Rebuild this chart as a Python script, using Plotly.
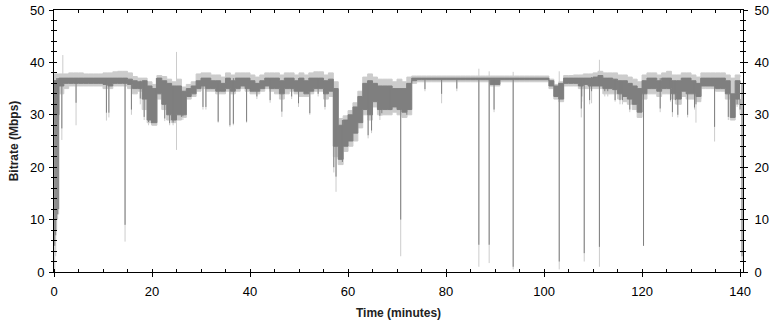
import plotly.graph_objects as go

# ---- data ----
minutes = list(range(0, 141))

avg_hi = [36.5, 37, 37, 37, 37, 37, 37, 37, 37, 37,
          37, 37, 37, 37, 37, 36.8, 36.5, 36.3, 36.5, 35.5,
          35, 37, 36.5, 36, 35.5, 35.5, 34.5, 35, 35.5, 36.5,
          37, 37, 36.5, 36.5, 36, 37, 36.5, 37, 37, 37,
          36.5, 36, 36.5, 37, 37, 37, 36.5, 37, 37, 36.5,
          37, 36.5, 37, 37, 37, 36.5, 36.8, 35, 28, 29,
          30, 31.5, 33.5, 36, 36.5, 36, 35.5, 35.5, 35.5, 35,
          35, 35, 36, 37, 37, 37, 37, 37, 37, 37,
          37, 37, 37, 37, 37, 37, 37, 37, 37, 37,
          37, 37, 37, 37, 37, 37, 37, 37, 37, 37,
          37, 36.5, 35.5, 36, 37, 37, 37, 37, 37, 37,
          37.2, 37.5, 37, 37, 36.8, 36.5, 36.5, 36, 35.5, 35,
          36.5, 37, 37, 36.5, 37, 37, 36.5, 36.5, 37, 37,
          36.5, 36, 37, 37, 37, 37, 37, 36.5, 34, 36.5,
          36]
avg_lo = [30, 35.5, 36, 36, 36, 36, 36, 36, 36, 36,
          35.8, 35.5, 36, 36, 36, 35.8, 35, 35, 33, 29,
          28.5, 34, 32, 30, 29, 30, 30, 33.5, 34, 35,
          35.5, 35, 35, 34.5, 34.5, 35, 34.5, 35, 35.5, 35,
          34.5, 34.5, 35, 35.5, 35, 35, 34, 35, 35, 34.5,
          34.5, 34, 34.5, 35, 35, 34, 34.5, 24, 21.5, 24,
          25, 26.5, 28.5, 31, 30, 32.5, 31, 31, 31, 31.5,
          31, 30.5, 31, 36.5, 36.7, 36.7, 36.7, 36.7, 36.7, 36.7,
          36.7, 36.7, 36.7, 36.7, 36.7, 36.7, 36.7, 36.7, 36.7, 35.8,
          35.8, 36.7, 36.7, 36.7, 36.7, 36.7, 36.7, 36.7, 36.7, 36.7,
          36.7, 35.5, 33.5, 33, 36, 36, 36, 35.5, 35.8, 35.5,
          35.5, 35.5, 35, 35, 34.8, 34, 33.5, 33, 32, 30.5,
          34, 35, 35, 34.5, 35, 35, 34, 33, 34.5, 34,
          34, 33.5, 35.5, 35.5, 35.5, 35, 35, 34, 29.5, 33,
          31]
peak_hi = [37.8, 37.8, 37.8, 38, 38, 38, 37.8, 37.8, 37.8, 37.8,
           38, 38, 38.2, 38.3, 38.3, 38, 37.3, 37, 37, 36.3,
           35.8, 37.5, 37.3, 36.8, 36.3, 36.8, 35.3, 35.8, 36.3, 37.8,
           38, 38, 37.6, 37.6, 37.2, 38, 37.6, 38, 38, 38,
           37.6, 37.2, 37.6, 38, 38, 38, 37.6, 38, 38, 37.6,
           38, 37.6, 38, 38.2, 38.2, 37.6, 38, 36.3, 29.3, 29.8,
           30.8, 32.3, 34.5, 37.2, 37.8, 37.2, 36.8, 36.8, 36.8, 36.3,
           36.8, 36.3, 37.2, 37.4, 37.4, 37.4, 37.4, 37.4, 37.4, 37.4,
           37.4, 37.4, 37.4, 37.4, 37.4, 37.4, 37.4, 37.4, 37.4, 37.4,
           37.4, 37.4, 37.4, 37.4, 37.4, 37.4, 37.4, 37.4, 37.4, 37.4,
           37.4, 36.8, 35.8, 36.3, 37.5, 37.5, 37.6, 37.6, 37.8, 37.8,
           38, 38.3, 38, 38, 38, 37.6, 37.6, 37.2, 36.8, 36.3,
           37.6, 38, 38, 37.6, 38, 38.3, 37.6, 37.6, 38, 38,
           37.6, 37.2, 38, 38, 38, 38, 38, 37.6, 37, 37.6,
           37.2]
peak_lo = [29, 34, 35, 35.5, 35.5, 35.5, 35.5, 35.5, 35.5, 35.5,
           35, 35, 35.5, 35.5, 35.5, 35, 34, 34.5, 31, 28.5,
           28, 33, 31, 29, 28.5, 29, 29.5, 33, 33.5, 34.5,
           35, 34.5, 34.5, 34, 34, 34.5, 34, 34.5, 35, 34.5,
           34, 34, 34.5, 35, 34.5, 34, 33, 34, 34.5, 34,
           33.5, 33.5, 34, 34.5, 34.5, 33, 33.5, 22, 20.5, 23,
           24, 25, 27.5, 30, 29, 31.5, 30, 30, 30, 30.5,
           30, 29.5, 30, 36, 36.3, 36.3, 36.3, 36.3, 36.3, 36.3,
           36.3, 36.3, 36.3, 36.3, 36.3, 36.3, 36.3, 36.3, 36.3, 35.5,
           35.5, 36.3, 36.3, 36.3, 36.3, 36.3, 36.3, 36.3, 36.3, 36.3,
           36.3, 35, 33, 32.5, 35.5, 35.5, 35.5, 35, 35, 35,
           35, 35, 34, 34, 34, 33, 32.5, 32, 31, 29.5,
           33, 34, 34, 33.5, 34, 34, 33, 32, 33.5, 33,
           33, 32.5, 35, 35, 35, 34.5, 34.5, 33, 29, 32,
           30]

# short drops (time in minutes, lowest average, lowest peak value)
drop_t = [0.15, 0.35, 0.55, 0.75, 0.95, 1.6, 4.5, 10.7, 11.2, 14.5,
          15.8, 17.6, 18.4, 19.3, 19.9, 20.9, 22.6, 23.6, 24.3, 25.0,
          26.0, 26.3, 30.4, 31.0, 33.5, 35.9, 36.6, 39.3, 41.4, 44.1,
          46.5, 48.5, 49.9, 52.2, 53.9, 55.3, 57.1, 57.55, 58.85, 64.1,
          64.8, 66.5, 66.9, 68.6, 69.3, 70.75, 72.0, 75.7, 79.1, 82.2,
          86.7, 88.8, 89.8, 93.7, 103.1, 107.6, 107.7, 108.2, 109.3, 109.7,
          111.3, 112.4, 113.0, 114.5, 115.5, 116.0, 117.5, 120.3, 123.7, 125.8,
          126.2, 126.8, 127.3, 129.3, 130.7, 131.0, 132.0, 134.8, 137.6, 139.4,
          140.4]
drop_avg = [5, 7, 10, 11, 12, 27.4, 32.3, 30.4, 30.4, 9,
            31, 33.1, 29.6, 28.6, 28.4, 33.1, 29.3, 28.4, 28.5, 31,
            29.6, 29.7, 31.5, 31.5, 28.7, 28, 28.3, 28.7, 33.5, 32.8,
            30.6, 33.5, 32.2, 30.3, 34, 31.5, 20, 18.2, 21, 26.1,
            27, 29.8, 30.3, 30.9, 31.5, 10, 30, 34.9, 34, 35,
            5.2, 5.2, 31, 1.0, 2.0, 31.2, 33.5, 3.6, 32.8, 34.5,
            4.8, 34.5, 34.5, 32.8, 32.8, 32.8, 31, 5, 31.2, 32.8,
            30.5, 32.8, 30, 30, 31.4, 32, 33.5, 27.7, 29.6, 32,
            3]
drop_peak = [0, 3, 8, 10, 11, 25.2, 28, 28.9, 29.5, 5.8,
             30, 32, 29, 28, 28, 32.5, 28.8, 28, 28, 23.3,
             29, 29, 31, 31, 28.5, 27.7, 28, 28.5, 33, 32.3,
             29.6, 33, 31.5, 30, 33.5, 31, 19, 15.3, 20.5, 25.5,
             26.5, 29, 29.8, 30.5, 31, 3, 29.5, 34.5, 32.2, 34.5,
             1.0, 1.7, 30.5, 0.5, 0.5, 29.5, 32.5, 2.0, 32, 32.2,
             1.0, 33.5, 33.5, 32.5, 32, 32, 30.5, 5, 30.5, 32.5,
             29.6, 32, 29.5, 29.5, 31, 28.5, 33, 24.9, 29, 31.5,
             2]

# short upward peaks
rise_t = [1.8, 25.0, 111.3, 86.7, 88.8, 93.7, 103.1]
rise_peak = [41.4, 42.0, 40.5, 38.8, 38.3, 38.2, 38.3]

LIGHT = "#cccccc"
DARK = "#7f7f7f"


def vlines(ts, tops, bots):
    xs, ys = [], []
    for t, a, b in zip(ts, tops, bots):
        xs += [t, t, None]
        ys += [a, b, None]
    return xs, ys


fig = go.Figure()

# peak (light) band
fig.add_trace(go.Scatter(x=minutes, y=peak_hi, mode="lines", line_shape="hv",
                         line=dict(color=LIGHT, width=1), hoverinfo="skip"))
fig.add_trace(go.Scatter(x=minutes, y=peak_lo, mode="lines", fill="tonexty", line_shape="hv",
                         fillcolor=LIGHT, line=dict(color=LIGHT, width=1),
                         hoverinfo="skip"))
tops = [avg_hi[min(int(round(t)), len(avg_hi) - 1)] for t in drop_t]
xs, ys = vlines(drop_t, tops, drop_peak)
fig.add_trace(go.Scatter(x=xs, y=ys, mode="lines",
                         line=dict(color=LIGHT, width=1), hoverinfo="skip"))
rtops = [peak_hi[int(round(t))] for t in rise_t]
xs, ys = vlines(rise_t, rise_peak, rtops)
fig.add_trace(go.Scatter(x=xs, y=ys, mode="lines",
                         line=dict(color=LIGHT, width=1), hoverinfo="skip"))

# average (dark) band
fig.add_trace(go.Scatter(x=minutes, y=avg_hi, mode="lines", line_shape="hv",
                         line=dict(color=DARK, width=1), hoverinfo="skip"))
fig.add_trace(go.Scatter(x=minutes, y=avg_lo, mode="lines", fill="tonexty", line_shape="hv",
                         fillcolor=DARK, line=dict(color=DARK, width=1),
                         hoverinfo="skip"))
xs, ys = vlines(drop_t, tops, drop_avg)
fig.add_trace(go.Scatter(x=xs, y=ys, mode="lines",
                         line=dict(color=DARK, width=1), hoverinfo="skip"))

# helper traces so overlaid axes get drawn
for xa, ya in [("x2", "y"), ("x", "y2"), ("x", "y3"), ("x", "y4")]:
    fig.add_trace(go.Scatter(x=[None], y=[None], xaxis=xa, yaxis=ya,
                             showlegend=False, hoverinfo="skip"))

tickfont = dict(family="Liberation Sans, Arial, sans-serif", size=13, color="black")
titlefont = dict(family="Liberation Sans, Arial, sans-serif", size=12, color="#222222")
XR = [0, 140.6]
YR = [0, 50]

fig.update_layout(
    template="none",
    width=776, height=322,
    margin=dict(l=54, r=33, t=10, b=50, autoexpand=False),
    paper_bgcolor="white", plot_bgcolor="white",
    showlegend=False,
    hovermode=False,
    xaxis=dict(range=XR, showgrid=False, zeroline=False, automargin=False,
               showline=True, linecolor="black", linewidth=1, mirror=True,
               ticks="outside", ticklen=4, tickcolor="black", dtick=20, tick0=0,
               tickfont=tickfont, ticklabelstandoff=3,
               minor=dict(ticks="inside", ticklen=3, dtick=5, tickcolor="black", showgrid=False),
               title=dict(text="<b>Time (minutes)</b>", font=titlefont, standoff=11)),
    xaxis2=dict(range=XR, overlaying="x", side="top", showgrid=False, zeroline=False,
                automargin=False,
                showline=False, ticks="inside", ticklen=3, dtick=5, tick0=0,
                tickcolor="black", showticklabels=False),
    yaxis=dict(range=YR, showgrid=False, zeroline=False, automargin=False,
               showline=True, linecolor="black", linewidth=1, mirror=True,
               ticks="outside", ticklen=4, tickcolor="black", dtick=10, tick0=0,
               tickfont=tickfont, ticklabelstandoff=2,
               minor=dict(ticks="outside", ticklen=2, dtick=2, tickcolor="black", showgrid=False),
               title=dict(text="<b>Bitrate (Mbps)</b>", font=titlefont, standoff=8)),
    yaxis3=dict(range=YR, overlaying="y", side="left", showgrid=False, zeroline=False,
                automargin=False,
                showline=False, ticks="inside", ticklen=3, dtick=2, tick0=0,
                tickcolor="black", showticklabels=False),
    yaxis2=dict(range=YR, overlaying="y", side="right", showgrid=False, zeroline=False,
                automargin=False,
                showline=False, ticks="outside", ticklen=4, tickcolor="black", dtick=10, tick0=0,
                tickfont=tickfont, ticklabelstandoff=4,
                minor=dict(ticks="outside", ticklen=2, dtick=2, tickcolor="black", showgrid=False)),
    yaxis4=dict(range=YR, overlaying="y", side="right", showgrid=False, zeroline=False,
                automargin=False,
                showline=False, ticks="inside", ticklen=3, dtick=2, tick0=0,
                tickcolor="black", showticklabels=False),
)

fig.write_html("out.html", config={"displayModeBar": False, "staticPlot": True},
               post_script="document.body.style.margin='0';document.body.style.padding='0';")
